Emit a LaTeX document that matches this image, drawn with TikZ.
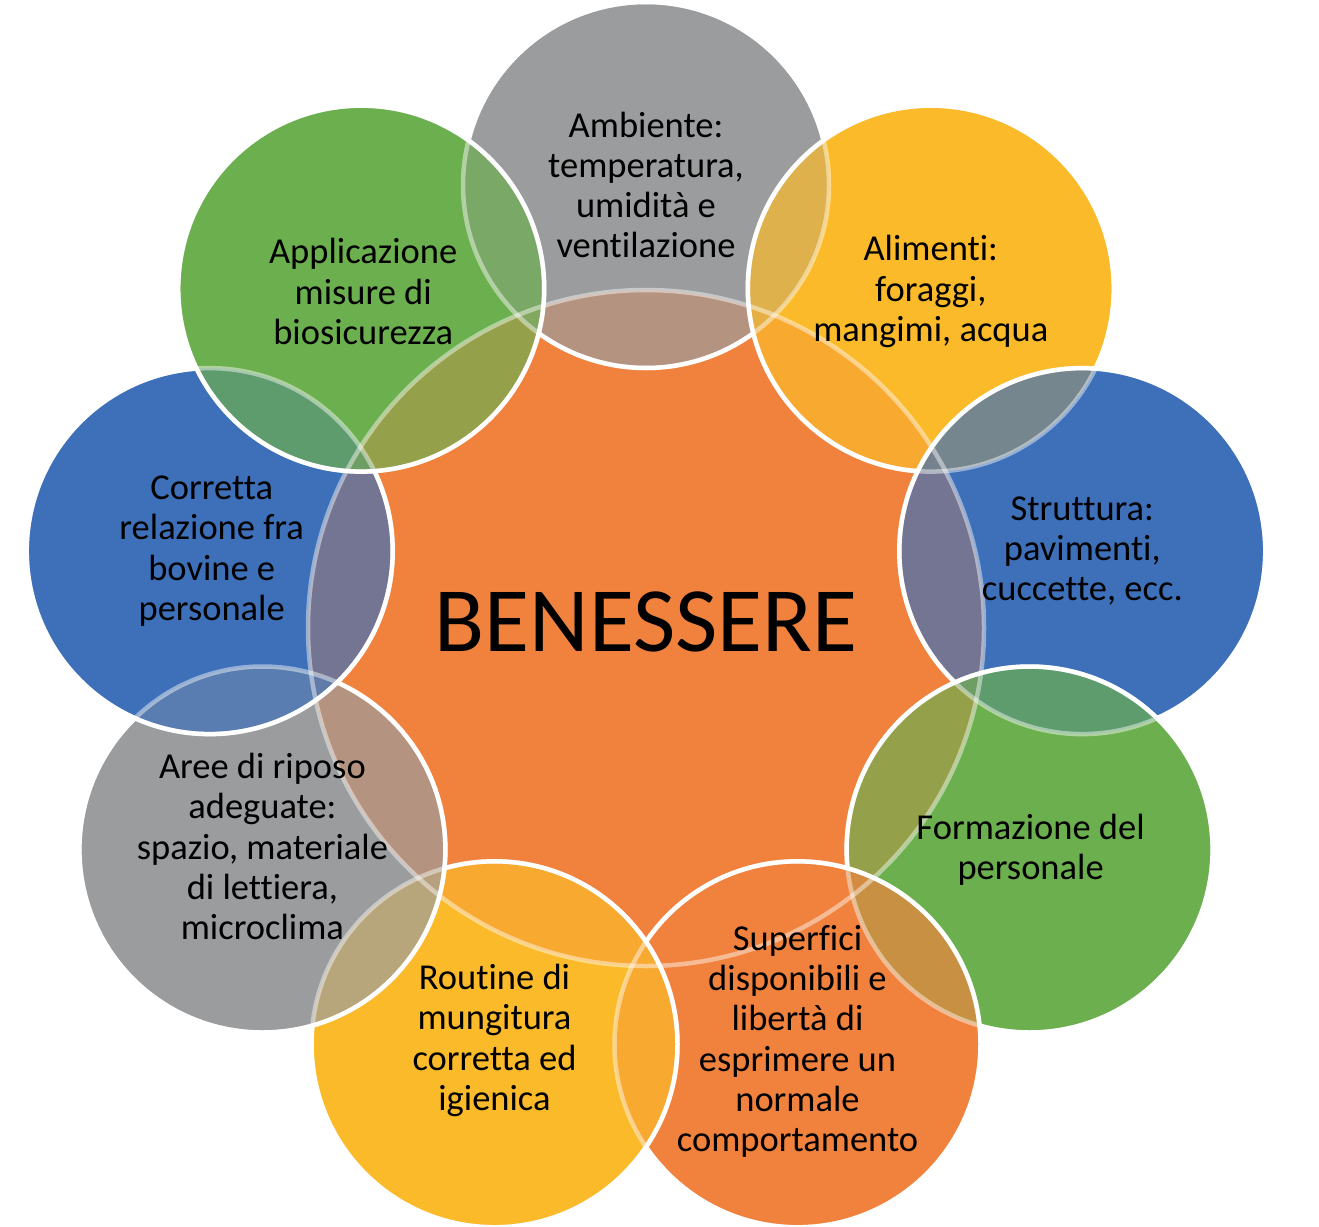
\documentclass[tikz,border=0pt]{standalone}
\usepackage{fontspec}
\setmainfont[Ligatures=NoCommon]{Carlito}
\definecolor{cOr}{HTML}{F0823E}
\definecolor{cGy}{HTML}{9A9C9E}
\definecolor{cYe}{HTML}{FBBA2A}
\definecolor{cBl}{HTML}{3D70B8}
\definecolor{cGn}{HTML}{6CAF4F}
\newcommand\pairmix[4]{% top index, top colour, lower index, lower colour
  \begin{scope}
    \clip (o#1) circle[radius=183];
    \clip (o#3) circle[radius=183];
    \fill[#2!70!#4] (o#3) circle[radius=183];
    \colorlet{tmpmix}{#4!70!cOr}
    \clip (C) circle[radius=338];
    \fill[#2!70!tmpmix] (C) circle[radius=338];
  \end{scope}}
\begin{document}
\begin{tikzpicture}[x=1pt,y=-1pt,
  lbl/.style={align=center,text=black,font=\fontsize{36.5}{40.3}\selectfont},
  rim/.style={draw=white,line width=4.5pt},
  faintrim/.style={draw=white,draw opacity=0.45,line width=4.5pt}]
\useasboundingbox (0,0) rectangle (1319,1226);
\coordinate (C) at (646,628);
\coordinate (o1) at (646,185);
\coordinate (o2) at (930.8,288.6);
\coordinate (o3) at (1082.3,551.1);
\coordinate (o4) at (1029.6,849.5);
\coordinate (o5) at (797.5,1044.3);
\coordinate (o6) at (494.5,1044.3);
\coordinate (o7) at (262.4,849.5);
\coordinate (o8) at (209.7,551.1);
\coordinate (o9) at (361.2,288.6);
% centre
\fill[cOr] (C) circle[radius=338];
\path[rim] (C) circle[radius=338];
% outer circles in stacking order
\foreach \k/\cur/\pk/\prev in {1/cGy/0/cGy, 2/cYe/1/cGy, 3/cBl/2/cYe, 4/cGn/3/cBl,
  5/cOr/4/cGn, 6/cYe/5/cOr, 7/cGy/6/cYe, 8/cBl/7/cGy, 9/cGn/8/cBl}{
  \fill[\cur] (o\k) circle[radius=183];
  \begin{scope}
    \clip (o\k) circle[radius=183];
    \fill[\cur!70!cOr] (C) circle[radius=338];
  \end{scope}
  \ifnum\k>1 \pairmix{\k}{\cur}{\pk}{\prev}\fi
  \ifnum\k=9 \pairmix{9}{cGn}{1}{cGy}\fi
  \path[rim] (o\k) circle[radius=183];
}
% faint rims seen through the circles above
\path[faintrim] (C) circle[radius=338];
\foreach \k in {1,...,9}{\path[faintrim] (o\k) circle[radius=183];}
% texts
\node[font=\fontsize{92}{100}\selectfont,text=black] (tc) at (646,622) {BENESSERE};
\node[lbl] (t1) at (o1) {Ambiente:\\temperatura,\\umidità e\\ventilazione};
\node[lbl] (t2) at ([yshift=-3]o2) {Alimenti:\\foraggi,\\mangimi, acqua};
\node[lbl] (t3) at (o3) {Struttura:\\pavimenti,\\cuccette, ecc.};
\node[lbl] (t4) at ([xshift=1]o4) {Formazione del\\personale};
\node[lbl] (t5) at ([yshift=3]o5) {Superfici\\disponibili e\\libertà di\\esprimere un\\normale\\comportamento};
\node[lbl] (t6) at ([yshift=4]o6) {Routine di\\mungitura\\corretta ed\\igienica};
\node[lbl] (t7) at ([yshift=3]o7) {Aree di riposo\\adeguate:\\spazio, materiale\\di lettiera,\\microclima};
\node[lbl] (t8) at ([xshift=2]o8) {Corretta\\relazione fra\\bovine e\\personale};
\node[lbl] (t9) at ([xshift=2,yshift=-3]o9) {Applicazione\\misure di\\biosicurezza};
\end{tikzpicture}
\end{document}
